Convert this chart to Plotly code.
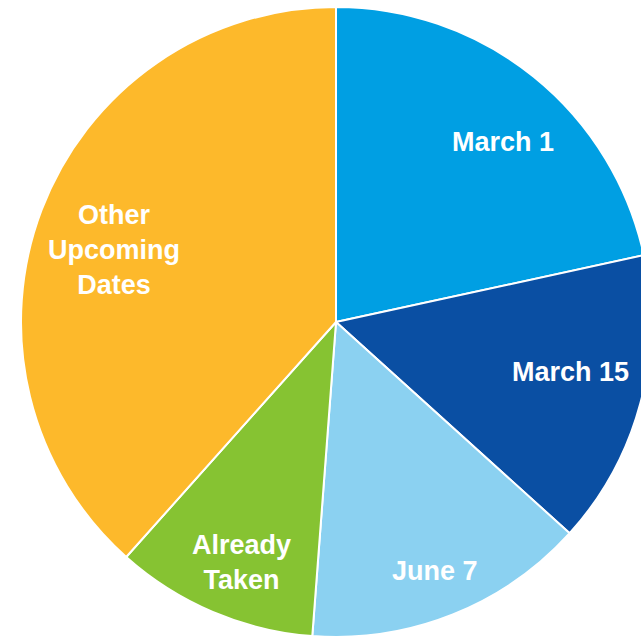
import math
import plotly.graph_objects as go

labels = ["March 1", "March 15", "June 7", "Already Taken", "Other Upcoming Dates"]
label_text = ["March 1", "March 15", "June 7", "Already<br>Taken", "Other<br>Upcoming<br>Dates"]
values = [21.6, 15.1, 14.5, 10.4, 38.4]

colors = ["#009FE3", "#0A4FA3", "#8BD1F1", "#86C332", "#FDB92B"]
label_radius = [0.78, 0.76, 0.85, 0.82, 0.74]
label_angle_shift = [4.0, -3.0, 0.0, -1.5, -3.0]  # degrees

W, H = 660, 660
CX, CY, R = 336, 322, 315  # pie centre / radius in pixels (style)

fig = go.Figure(go.Pie(
    labels=labels,
    values=values,
    sort=False,
    direction="clockwise",
    rotation=0,
    marker=dict(colors=colors, line=dict(color="white", width=2)),
    textinfo="none",
    hoverinfo="label+percent",
    domain=dict(x=[(CX - R) / W, (CX + R) / W],
                y=[(H - CY - R) / H, (H - CY + R) / H]),
))

total = sum(values)
cum = 0.0
for txt, v, fr, sh in zip(label_text, values, label_radius, label_angle_shift):
    mid = (cum + v / 2) / total * 2 * math.pi + math.radians(sh)
    cum += v
    px = CX + fr * R * math.sin(mid)
    py = CY - fr * R * math.cos(mid)
    fig.add_annotation(
        x=px / W, y=1 - py / H, xref="paper", yref="paper",
        text="<b>" + txt + "</b>", showarrow=False,
        font=dict(family="Liberation Sans, Arial, sans-serif", size=27, color="white"),
        xanchor="center", yanchor="middle",
    )

fig.update_layout(
    width=W, height=H,
    margin=dict(l=0, r=0, t=0, b=0),
    showlegend=False,
    paper_bgcolor="white",
    plot_bgcolor="white",
)

fig.write_html("out.html",
               config={"displayModeBar": False},
               post_script="document.body.style.margin='0';document.body.style.overflow='hidden';")
